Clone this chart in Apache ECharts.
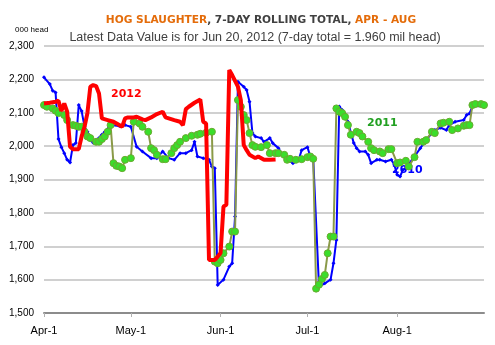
<!DOCTYPE html>
<html><head><meta charset="utf-8">
<script src="https://cdn.jsdelivr.net/npm/echarts@6/dist/echarts.min.js"></script>
<style>html,body{margin:0;padding:0;background:#fff}#c{width:495px;height:345px}</style>
</head><body><div id="c"></div>
<script>
// x values: days since Apr-1
const tickDays = [0, 30, 61, 91, 122];
const tickLabels = ['Apr-1', 'May-1', 'Jun-1', 'Jul-1', 'Aug-1'];
const yTicks = [1500, 1600, 1700, 1800, 1900, 2000, 2100, 2200, 2300];

const days2010 = [0,2,3,4,5,6,7,8,9,10,11,12,13,14,15,16,17,20,21,23,26,28,30,32,34,37,39,41,43,45,47,49,51,52,53,55,57,58,59,60,62,64,65,66,67,69,70,71,72,73,75,76,78,79,81,82,84,86,88,89,91,92,93,95,97,99,100,101,102,103,104,105,107,108,109,111,112,113,115,116,118,120,121,122,123,124,125,128,130,132,134,135,137,139,140,142,145,146,147,148,150];
const hogs2010 = [2206,2186,2166,2161,2021,1997,1979,1959,1951,2003,2009,2123,2105,2058,2043,2018,2010,2034,2043,2063,2060,2063,2058,1998,1984,1964,1964,1984,1964,1959,1979,1979,1988,2013,1969,1964,1959,1939,1934,1584,1600,1639,1649,1789,2193,2178,2168,2133,2039,2029,2024,2013,2024,2009,1994,1979,1959,1949,1959,1988,1997,1969,1964,1579,1589,1600,1649,1719,2119,2108,2093,2073,2009,1994,1984,1984,1974,1949,1959,1959,1954,1959,1944,1914,1909,1929,1934,1969,1994,2018,2039,2048,2055,2048,2063,2073,2078,2093,2098,2118,2122];

const days2011 = [0,1,3,4,5,7,8,10,11,12,13,14,15,16,18,19,20,21,22,23,24,25,26,27,28,30,31,33,34,36,37,38,39,41,42,44,45,46,47,49,51,53,54,56,58,59,60,61,62,64,65,66,67,68,69,70,71,72,73,75,77,78,80,81,83,84,85,87,89,91,92,93,94,95,96,97,98,99,100,101,102,103,104,105,106,108,109,110,112,113,114,116,117,119,120,122,123,125,126,128,129,131,132,134,135,137,138,140,141,143,145,146,147,148,149,151,152];
const hogs2011 = [2123,2118,2113,2106,2099,2093,2078,2063,2061,2058,2058,2043,2029,2024,2013,2013,2021,2029,2043,2063,1949,1941,1939,1934,1959,1964,2073,2068,2058,2043,1994,1988,1974,1961,1961,1979,1994,2003,2013,2024,2031,2034,2037,2040,2043,1654,1649,1659,1679,1699,1744,1744,2138,2118,2093,2078,2039,2003,1998,1997,2003,1979,1979,1979,1974,1959,1962,1959,1961,1967,1969,1962,1573,1585,1602,1614,1679,1729,1729,2113,2103,2099,2088,2063,2034,2043,2039,2029,2013,1994,1988,1984,1979,1991,1991,1949,1951,1956,1939,1967,2013,2013,2018,2043,2039,2068,2070,2073,2048,2053,2061,2063,2063,2123,2126,2126,2123];

const days2012 = [0,2,4,5,6,7,8,9,10,12,13,14,15,16,17,18,19,20,22,24,26,27,28,29,31,32,34,35,37,39,41,42,45,47,48,49,50,52,54,55,56,57,59,60,61,62,63,64,65,67,68,69,70,71,73,74,76,78,80];
const hogs2012 = [2128,2130,2133,2136,2105,2128,2103,1998,1991,1991,2029,2058,2099,2178,2183,2180,2158,2083,2078,2073,2063,2058,2083,2086,2086,2088,2080,2078,2086,2096,2103,2086,2078,2073,2063,2111,2118,2130,2140,2073,2068,1659,1659,1669,1680,1819,1824,2228,2213,2178,2138,2003,1988,1974,1964,1969,1959,1959,1960];

const pair = (d, v) => d.map((x, i) => [x, v[i]]);
const chart = echarts.init(document.getElementById('c'), null, {renderer: 'canvas'});
chart.setOption({
  animation: false,
  backgroundColor: '#fff',
  title: [{
    text: '{o|HOG SLAUGHTER}{k|, 7-DAY ROLLING TOTAL, }{o|APR - AUG}',
    left: 256, top: 10, textAlign: 'center',
    textStyle: {rich: {
      o: {fontFamily: 'DejaVu Sans', fontWeight: 'bold', fontSize: 10.6, color: '#E46C0A'},
      k: {fontFamily: 'DejaVu Sans', fontWeight: 'bold', fontSize: 10.6, color: '#404040'}
    }}
  }, {
    text: 'Latest Data Value is for Jun 20, 2012 (7-day total = 1.960 mil head)',
    left: 250, top: 26, textAlign: 'center',
    textStyle: {fontFamily: 'Liberation Sans', fontWeight: 'normal', fontSize: 12.5, color: '#404040'}
  }, {
    text: '000 head', left: 10, top: 21,
    textStyle: {fontFamily: 'Liberation Sans', fontWeight: 'normal', fontSize: 8, color: '#000'}
  }],
  grid: {left: 44, right: 11, top: 46, bottom: 32, containLabel: false},
  xAxis: {
    type: 'value', min: 0, max: 152,
    axisLine: {show: true, lineStyle: {color: '#8c8c8c', width: 2}},
    axisTick: {show: true, customValues: tickDays, length: 4, lineStyle: {color: '#b0b0b0'}},
    splitLine: {show: false},
    axisLabel: {customValues: tickDays, margin: 12, fontFamily: 'Liberation Sans', fontSize: 11, color: '#000',
      formatter: v => tickLabels[tickDays.indexOf(v)]}
  },
  yAxis: {
    type: 'value', min: yTicks[0], max: yTicks[yTicks.length - 1], interval: 100,
    axisLine: {show: false}, axisTick: {show: false},
    splitLine: {lineStyle: {color: '#c0c0c0', width: 1.5}},
    axisLabel: {margin: 10, fontFamily: 'Liberation Sans', fontSize: 10, color: '#000',
      formatter: v => v.toLocaleString('en-US')}
  },
  series: [{
    name: '2010', type: 'line', data: pair(days2010, hogs2010),
    lineStyle: {color: '#0000ff', width: 2}, itemStyle: {color: '#0000ff'},
    symbol: 'diamond', symbolSize: 4, showSymbol: true, z: 2
  }, {
    name: '2011', type: 'line', data: pair(days2011, hogs2011),
    lineStyle: {color: '#8a9a48', width: 2},
    itemStyle: {color: '#3ade2a', borderColor: '#6aaa30', borderWidth: 1},
    symbol: 'circle', symbolSize: 7, showSymbol: true, z: 3
  }, {
    name: '2012', type: 'line', data: pair(days2012, hogs2012),
    lineStyle: {color: '#ff0000', width: 4}, itemStyle: {color: '#ff0000'},
    symbol: 'none', z: 4
  }],
  graphic: [
    {type: 'text', left: 111, top: 89, style: {text: '2012', fill: '#ff0000', font: 'bold 11px "DejaVu Sans"'}},
    {type: 'text', left: 367, top: 118, style: {text: '2011', fill: '#22a022', font: 'bold 11px "DejaVu Sans"'}},
    {type: 'text', left: 392, top: 165, style: {text: '2010', fill: '#0000ff', font: 'bold 11px "DejaVu Sans"'}}
  ]
});
</script></body></html>
